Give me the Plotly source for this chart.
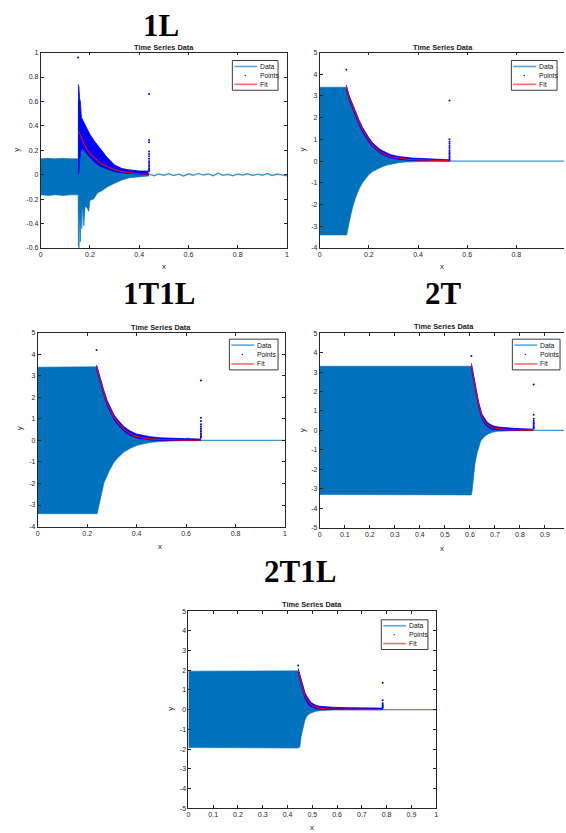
import plotly.graph_objects as go

W, H = 566, 833

# ---------------- 1L ----------------
A_env_x = [0, 0.03, 0.06, 0.09, 0.12, 0.152, 0.153, 0.156, 0.158, 0.161, 0.164, 0.167, 0.170, 0.175,
           0.180, 0.188, 0.195, 0.20, 0.215, 0.23, 0.25, 0.27, 0.30, 0.33, 0.36, 0.40, 0.44]
A_env_hi = [0.13, 0.135, 0.13, 0.135, 0.13, 0.13, 0.60, 0.55, 0.50, 0.45, 0.42, 0.40, 0.37, 0.33,
            0.30, 0.26, 0.23, 0.21, 0.17, 0.14, 0.11, 0.08, 0.05, 0.035, 0.025, 0.018, 0.012]
A_env_lo = [-0.165, -0.17, -0.165, -0.17, -0.165, -0.165, -0.58, -0.60, -0.28, -0.55, -0.26, -0.44, -0.25, -0.42,
            -0.26, -0.27, -0.30, -0.21, -0.20, -0.15, -0.13, -0.10, -0.07, -0.043, -0.025, -0.016, -0.01]
A_tail_x = [0.44, 0.46, 0.48, 0.50, 0.52, 0.54, 0.56, 0.58, 0.60, 0.62, 0.64, 0.66, 0.68, 0.70, 0.72,
            0.74, 0.76, 0.78, 0.80, 0.82, 0.84, 0.86, 0.88, 0.90, 0.92, 0.94, 0.96, 0.98, 1.0]
A_tail_y = [0.005, -0.008, 0.006, -0.004, 0.008, -0.006, 0.004, -0.01, 0.007, -0.005, 0.01, -0.003, 0.006,
            -0.008, 0.012, -0.004, 0.003, -0.009, 0.006, -0.002, 0.008, -0.007, 0.004, -0.005, 0.009,
            -0.006, 0.005, -0.004, -0.01]
A_pts_x = [0.152, 0.155, 0.158, 0.161, 0.165, 0.17, 0.18, 0.19, 0.20, 0.22, 0.24, 0.27, 0.30, 0.33, 0.36, 0.40, 0.437]
A_pts_hi = [0.74, 0.72, 0.62, 0.60, 0.47, 0.45, 0.42, 0.37, 0.33, 0.27, 0.22, 0.14, 0.08, 0.05, 0.04, 0.03, 0.03]
A_pts_lo = [0.00, 0.02, 0.10, 0.18, 0.20, 0.21, 0.19, 0.16, 0.14, 0.10, 0.07, 0.045, 0.025, 0.013, 0.008, 0.004, 0.0]
A_fit_x = [0.155, 0.165, 0.175, 0.19, 0.20, 0.22, 0.235, 0.25, 0.27, 0.30, 0.32, 0.35, 0.376, 0.40, 0.44]
A_fit_y = [0.355, 0.30, 0.255, 0.20, 0.173, 0.135, 0.105, 0.085, 0.065, 0.04, 0.03, 0.018, 0.011, 0.008, 0.005]
A_out_x = [0.152, 0.44, 0.44, 0.44, 0.44, 0.44, 0.44, 0.44, 0.44, 0.44, 0.44, 0.44, 0.44, 0.44, 0.44]
A_out_y = [0.96, 0.66, 0.285, 0.265, 0.19, 0.17, 0.15, 0.13, 0.11, 0.095, 0.08, 0.065, 0.05, 0.04, 0.03]
A_xticks = [0, 0.2, 0.4, 0.6, 0.8, 1]
A_xlabels = ["0", "0.2", "0.4", "0.6", "0.8", "1"]
A_yticks = [-0.6, -0.4, -0.2, 0, 0.2, 0.4, 0.6, 0.8, 1]
A_ylabels = ["-0.6", "-0.4", "-0.2", "0", "0.2", "0.4", "0.6", "0.8", "1"]

# ---------------- (unlabelled, top right) ----------------
B_env_x = [0, 0.108, 0.110, 0.115, 0.121, 0.128, 0.135, 0.148, 0.162, 0.175, 0.189, 0.20, 0.215,
           0.235, 0.256, 0.275, 0.296, 0.32, 0.35, 0.40, 0.45, 0.528]
B_env_hi = [3.4, 3.4, 3.35, 3.1, 2.85, 2.6, 2.4, 2.0, 1.65, 1.35, 1.1, 0.92, 0.72,
            0.52, 0.38, 0.28, 0.2, 0.13, 0.08, 0.04, 0.02, 0.01]
B_env_lo = [-3.4, -3.42, -3.4, -3.1, -2.69, -2.4, -2.08, -1.62, -1.24, -0.98, -0.78, -0.62, -0.48,
            -0.35, -0.25, -0.18, -0.12, -0.08, -0.04, -0.02, -0.01, -0.005]
B_tail_x = [0.528, 1.0]
B_tail_y = [0.0, 0.0]
B_fit_x = [0.108, 0.12, 0.135, 0.15, 0.162, 0.175, 0.189, 0.20, 0.215, 0.23, 0.242, 0.255, 0.269,
           0.29, 0.323, 0.35, 0.377, 0.42, 0.458, 0.528]
B_fit_y = [3.48, 2.9, 2.49, 2.05, 1.73, 1.43, 1.16, 0.97, 0.74, 0.57, 0.46, 0.37, 0.28,
           0.19, 0.13, 0.09, 0.07, 0.05, 0.04, 0.02]
B_pts_hi = [3.5, 3.0, 2.6, 2.16, 1.84, 1.54, 1.27, 1.08, 0.85, 0.68, 0.57, 0.48, 0.39,
            0.29, 0.21, 0.17, 0.14, 0.12, 0.1, 0.06]
B_pts_lo = [3.3, 2.8, 2.38, 1.94, 1.62, 1.32, 1.06, 0.88, 0.66, 0.5, 0.4, 0.31, 0.23,
            0.14, 0.08, 0.05, 0.03, 0.02, 0.01, 0.0]
B_out_x = [0.108, 0.528, 0.528, 0.528, 0.528, 0.528, 0.528, 0.528, 0.528, 0.528, 0.528, 0.528,
           0.528, 0.528, 0.528]
B_out_y = [4.21, 2.79, 1.01, 0.89, 0.8, 0.7, 0.6, 0.5, 0.42, 0.35, 0.28, 0.2, 0.14, 0.08, 0.04]
B_xticks = [0, 0.2, 0.4, 0.6, 0.8]
B_xlabels = ["0", "0.2", "0.4", "0.6", "0.8"]
B_yticks = [-4, -3, -2, -1, 0, 1, 2, 3, 4, 5]
B_ylabels = ["-4", "-3", "-2", "-1", "0", "1", "2", "3", "4", "5"]

# ---------------- 1T1L ----------------
C_env_x = [0, 0.238, 0.241, 0.246, 0.254, 0.268, 0.288, 0.308, 0.321, 0.335, 0.348, 0.375,
           0.40, 0.428, 0.455, 0.495, 0.535, 0.60, 0.66]
C_env_hi = [3.4, 3.42, 3.3, 3.0, 2.65, 2.12, 1.5, 1.05, 0.83, 0.65, 0.5, 0.29,
            0.17, 0.1, 0.06, 0.03, 0.02, 0.01, 0.005]
C_env_lo = [-3.4, -3.42, -3.4, -3.1, -2.66, -1.97, -1.43, -1.02, -0.84, -0.67, -0.54, -0.36,
            -0.24, -0.16, -0.1, -0.05, -0.025, -0.01, -0.005]
C_tail_x = [0.66, 1.0]
C_tail_y = [0.0, 0.0]
C_fit_x = [0.238, 0.254, 0.268, 0.281, 0.295, 0.308, 0.321, 0.335, 0.348, 0.362, 0.375, 0.40,
           0.428, 0.455, 0.495, 0.535, 0.60, 0.66]
C_fit_y = [3.42, 2.7, 2.17, 1.72, 1.37, 1.08, 0.87, 0.68, 0.53, 0.41, 0.31, 0.18,
           0.11, 0.07, 0.04, 0.02, 0.01, 0.01]
C_pts_hi = [3.5, 2.82, 2.3, 1.85, 1.5, 1.2, 0.99, 0.8, 0.65, 0.53, 0.43, 0.3,
            0.22, 0.17, 0.12, 0.1, 0.08, 0.06]
C_pts_lo = [3.3, 2.6, 2.07, 1.62, 1.27, 0.98, 0.77, 0.58, 0.44, 0.32, 0.23, 0.11,
            0.05, 0.02, 0.0, -0.01, -0.01, -0.01]
C_out_x = [0.238, 0.58, 0.61, 0.66, 0.66, 0.66, 0.66, 0.66, 0.66, 0.66, 0.66, 0.66, 0.66, 0.66, 0.66]
C_out_y = [4.2, 0.07, 0.08, 2.78, 1.05, 0.9, 0.75, 0.65, 0.55, 0.47, 0.4, 0.32, 0.25, 0.18, 0.12]
C_xticks = [0, 0.2, 0.4, 0.6, 0.8, 1]
C_xlabels = ["0", "0.2", "0.4", "0.6", "0.8", "1"]
C_yticks = [-4, -3, -2, -1, 0, 1, 2, 3, 4, 5]
C_ylabels = ["-4", "-3", "-2", "-1", "0", "1", "2", "3", "4", "5"]

# ---------------- 2T ----------------
D_env_x = [0, 0.606, 0.609, 0.613, 0.62, 0.628, 0.635, 0.643, 0.652, 0.663, 0.675, 0.69,
           0.71, 0.74, 0.78, 0.853]
D_env_hi = [3.3, 3.3, 3.05, 2.8, 2.2, 1.75, 1.3, 0.95, 0.62, 0.4, 0.25, 0.14,
            0.07, 0.03, 0.015, 0.005]
D_env_lo = [-3.3, -3.32, -3.1, -2.6, -1.75, -1.2, -0.85, -0.56, -0.4, -0.26, -0.17, -0.1,
            -0.05, -0.02, -0.01, -0.005]
D_tail_x = [0.853, 1.0]
D_tail_y = [0.0, 0.0]
D_fit_x = [0.606, 0.615, 0.624, 0.635, 0.648, 0.658, 0.668, 0.68, 0.694, 0.715, 0.741, 0.78, 0.82, 0.853]
D_fit_y = [3.35, 2.67, 1.99, 1.31, 0.71, 0.47, 0.32, 0.2, 0.12, 0.07, 0.04, 0.02, 0.01, 0.0]
D_pts_hi = [3.45, 2.8, 2.12, 1.44, 0.84, 0.6, 0.44, 0.32, 0.23, 0.17, 0.13, 0.1, 0.08, 0.06]
D_pts_lo = [3.2, 2.55, 1.87, 1.19, 0.6, 0.37, 0.22, 0.11, 0.04, 0.01, 0.0, -0.01, -0.01, -0.01]
D_out_x = [0.606, 0.79, 0.855, 0.855, 0.855, 0.855, 0.855, 0.855, 0.855, 0.855, 0.855, 0.855]
D_out_y = [3.83, 0.08, 2.36, 0.8, 0.6, 0.5, 0.42, 0.35, 0.28, 0.21, 0.15, 0.1]
D_xticks = [0, 0.1, 0.2, 0.3, 0.4, 0.5, 0.6, 0.7, 0.8, 0.9]
D_xlabels = ["0", "0.1", "0.2", "0.3", "0.4", "0.5", "0.6", "0.7", "0.8", "0.9"]
D_yticks = [-5, -4, -3, -2, -1, 0, 1, 2, 3, 4, 5]
D_ylabels = ["-5", "-4", "-3", "-2", "-1", "0", "1", "2", "3", "4", "5"]

# ---------------- 2T1L ----------------
E_env_x = [0, 0.443, 0.446, 0.45, 0.455, 0.464, 0.47, 0.477, 0.484, 0.497, 0.504, 0.515,
           0.53, 0.555, 0.584, 0.65, 0.784]
E_env_hi = [1.95, 1.97, 1.9, 1.7, 1.5, 1.05, 0.75, 0.55, 0.4, 0.22, 0.17, 0.11,
            0.07, 0.04, 0.02, 0.01, 0.005]
E_env_lo = [-1.92, -1.95, -1.9, -1.9, -1.36, -0.77, -0.55, -0.36, -0.25, -0.16, -0.12, -0.08,
            -0.05, -0.03, -0.02, -0.01, -0.005]
E_tail_x = [0.784, 1.0]
E_tail_y = [0.0, 0.0]
E_fit_x = [0.443, 0.45, 0.457, 0.464, 0.47, 0.477, 0.484, 0.494, 0.504, 0.515, 0.53, 0.555,
           0.584, 0.65, 0.72, 0.784]
E_fit_y = [1.99, 1.62, 1.32, 1.0, 0.73, 0.55, 0.4, 0.26, 0.18, 0.12, 0.08, 0.05,
           0.03, 0.02, 0.015, 0.01]
E_pts_hi = [2.1, 1.78, 1.48, 1.15, 0.88, 0.7, 0.54, 0.38, 0.3, 0.22, 0.17, 0.14,
            0.12, 0.1, 0.09, 0.08]
E_pts_lo = [1.88, 1.5, 1.2, 0.88, 0.6, 0.42, 0.28, 0.15, 0.08, 0.04, 0.02, 0.01,
            0.0, 0.0, 0.0, -0.005]
E_out_x = [0.443, 0.784, 0.784, 0.784, 0.784, 0.784, 0.784, 0.784]
E_out_y = [2.24, 1.37, 0.48, 0.32, 0.25, 0.2, 0.15, 0.1]
E_xticks = [0, 0.1, 0.2, 0.3, 0.4, 0.5, 0.6, 0.7, 0.8, 0.9, 1]
E_xlabels = ["0", "0.1", "0.2", "0.3", "0.4", "0.5", "0.6", "0.7", "0.8", "0.9", "1"]
E_yticks = [-5, -4, -3, -2, -1, 0, 1, 2, 3, 4, 5]
E_ylabels = ["-5", "-4", "-3", "-2", "-1", "0", "1", "2", "3", "4", "5"]

CASE_NAMES = ["1L", "", "1T1L", "2T", "2T1L"]
PLOT_TITLE = "Time Series Data"
SERIES_NAMES = ["Data", "Points", "Fit"]

DATA_BLUE = "#0072BD"
TAIL_BLUE = "#3d95d3"
PTS_BLUE = "#0000FF"
FIT_RED = "#FF0000"
AX_COL = "#262626"


def fx(p):
    return p / W


def fy(p):
    return 1 - p / H


panels = [
    dict(env=(A_env_x, A_env_hi, A_env_lo), tail=(A_tail_x, A_tail_y),
         pts=(A_pts_x, A_pts_hi, A_pts_lo), fit=(A_fit_x, A_fit_y), out=(A_out_x, A_out_y),
         xt=(A_xticks, A_xlabels), yt=(A_yticks, A_ylabels),
         box=(39, 287, 49, 246), xr=[0, 1], yr=[-0.6, 1], right=True,
         title_xy=(160, 21.5), sub_xy=(163, 44), xl=(163, 265), yl=(15, 147), leg=(232, 57, 46, 30)),
    dict(env=(B_env_x, B_env_hi, B_env_lo), tail=(B_tail_x, B_tail_y),
         pts=(B_fit_x, B_pts_hi, B_pts_lo), fit=(B_fit_x, B_fit_y), out=(B_out_x, B_out_y),
         xt=(B_xticks, B_xlabels), yt=(B_yticks, B_ylabels),
         box=(320, 566, 49, 246), xr=[0, 0.994], yr=[-4, 5], right=False,
         title_xy=None, sub_xy=(444, 44), xl=(443, 265), yl=(303, 147), leg=(513, 57, 46, 30)),
    dict(env=(C_env_x, C_env_hi, C_env_lo), tail=(C_tail_x, C_tail_y),
         pts=(C_fit_x, C_pts_hi, C_pts_lo), fit=(C_fit_x, C_fit_y), out=(C_out_x, C_out_y),
         xt=(C_xticks, C_xlabels), yt=(C_yticks, C_ylabels),
         box=(36, 285, 331.5, 527), xr=[0, 1], yr=[-4, 5], right=True,
         title_xy=(158, 291), sub_xy=(160, 326), xl=(159, 547), yl=(18, 428), leg=(229, 338, 49, 31)),
    dict(env=(D_env_x, D_env_hi, D_env_lo), tail=(D_tail_x, D_tail_y),
         pts=(D_fit_x, D_pts_hi, D_pts_lo), fit=(D_fit_x, D_fit_y), out=(D_out_x, D_out_y),
         xt=(D_xticks, D_xlabels), yt=(D_yticks, D_ylabels),
         box=(320, 566, 332, 528), xr=[0, 0.976], yr=[-5, 5], right=False,
         title_xy=(445, 291), sub_xy=(445, 325), xl=(443, 549), yl=(303, 430), leg=(514, 338, 48, 31)),
    dict(env=(E_env_x, E_env_hi, E_env_lo), tail=(E_tail_x, E_tail_y),
         pts=(E_fit_x, E_pts_hi, E_pts_lo), fit=(E_fit_x, E_fit_y), out=(E_out_x, E_out_y),
         xt=(E_xticks, E_xlabels), yt=(E_yticks, E_ylabels),
         box=(187.7, 437.3, 612.3, 811), xr=[0, 1], yr=[-5, 5], right=True,
         title_xy=(300, 572), sub_xy=(312, 606), xl=(312, 830), yl=(169, 711), leg=(382, 621, 47, 30)),
]

fig = go.Figure()
layout = dict(
    width=W, height=H, margin=dict(l=0, r=0, t=0, b=0),
    paper_bgcolor="white", plot_bgcolor="white", showlegend=False,
    annotations=[], shapes=[],
)

tick_font = dict(family="Liberation Sans, Arial, sans-serif", size=7, color=AX_COL)

for i, p in enumerate(panels):
    n = "" if i == 0 else str(i + 1)
    xa, ya = "x" + n, "y" + n
    x0, x1, yt_, yb = p["box"]

    # Data envelope (filled band) and quiet tail
    ex, ehi, elo = p["env"]
    fig.add_trace(go.Scatter(x=ex, y=elo, mode="lines", line=dict(color=DATA_BLUE, width=0.6),
                             xaxis=xa, yaxis=ya, hoverinfo="skip", name=SERIES_NAMES[0]))
    fig.add_trace(go.Scatter(x=ex, y=ehi, mode="lines", line=dict(color=DATA_BLUE, width=0.6),
                             fill="tonexty", fillcolor=DATA_BLUE, xaxis=xa, yaxis=ya,
                             hoverinfo="skip", name=SERIES_NAMES[0]))
    tx, ty = p["tail"]
    fig.add_trace(go.Scatter(x=tx, y=ty, mode="lines", line=dict(color=TAIL_BLUE, width=1.4),
                             xaxis=xa, yaxis=ya, name=SERIES_NAMES[0]))

    # Detected points: dense band plus isolated points
    px_, phi, plo = p["pts"]
    fig.add_trace(go.Scatter(x=px_, y=plo, mode="lines", line=dict(color=PTS_BLUE, width=0.8),
                             xaxis=xa, yaxis=ya, hoverinfo="skip", name=SERIES_NAMES[1]))
    fig.add_trace(go.Scatter(x=px_, y=phi, mode="lines", line=dict(color=PTS_BLUE, width=0.8),
                             fill="tonexty", fillcolor=PTS_BLUE, xaxis=xa, yaxis=ya,
                             hoverinfo="skip", name=SERIES_NAMES[1]))
    ox, oy = p["out"]
    fig.add_trace(go.Scatter(x=ox, y=oy, mode="markers", marker=dict(color=PTS_BLUE, size=2),
                             xaxis=xa, yaxis=ya, name=SERIES_NAMES[1]))

    # Exponential fit
    fxs, fys = p["fit"]
    fig.add_trace(go.Scatter(x=fxs, y=fys, mode="lines", line=dict(color=FIT_RED, width=1.1),
                             xaxis=xa, yaxis=ya, name=SERIES_NAMES[2]))

    axkey = "xaxis" + n
    aykey = "yaxis" + n
    layout[axkey] = dict(
        domain=[fx(x0), fx(x1)], range=p["xr"], anchor=ya,
        tickmode="array", tickvals=p["xt"][0], ticktext=p["xt"][1],
        ticks="inside", ticklen=3, tickwidth=0.8, tickcolor=AX_COL,
        showline=True, linecolor=AX_COL, linewidth=0.8, mirror="ticks",
        showgrid=False, zeroline=False, tickfont=tick_font, fixedrange=True,
    )
    layout[aykey] = dict(
        domain=[fy(yb), fy(yt_)], range=p["yr"], anchor=xa,
        tickmode="array", tickvals=p["yt"][0], ticktext=p["yt"][1],
        ticks="inside", ticklen=3, tickwidth=0.8, tickcolor=AX_COL,
        showline=True, linecolor=AX_COL, linewidth=0.8, mirror="ticks" if p["right"] else False,
        showgrid=False, zeroline=False, tickfont=tick_font, fixedrange=True,
    )

    ann = layout["annotations"]
    if p["title_xy"] is not None:
        ann.append(dict(text="<b>%s</b>" % CASE_NAMES[i], x=fx(p["title_xy"][0]), y=fy(p["title_xy"][1]),
                        xref="paper", yref="paper", showarrow=False, xanchor="center", yanchor="middle",
                        height=28, valign="middle",
                        font=dict(family="Liberation Serif, Times New Roman, serif", size=31, color="black")))
    ann.append(dict(text="<b>%s</b>" % PLOT_TITLE, x=fx(p["sub_xy"][0]), y=fy(p["sub_xy"][1]),
                    xref="paper", yref="paper", showarrow=False, xanchor="center", yanchor="middle",
                    font=dict(family="Liberation Sans, Arial, sans-serif", size=7.4, color="#222")))
    ann.append(dict(text="x", x=fx(p["xl"][0]), y=fy(p["xl"][1]), xref="paper", yref="paper",
                    showarrow=False, xanchor="center", yanchor="middle",
                    font=dict(family="Liberation Sans, Arial, sans-serif", size=8, color=AX_COL)))
    ann.append(dict(text="y", x=fx(p["yl"][0]), y=fy(p["yl"][1]), xref="paper", yref="paper",
                    showarrow=False, xanchor="center", yanchor="middle", textangle=-90,
                    font=dict(family="Liberation Sans, Arial, sans-serif", size=8, color=AX_COL)))

    # Legend box
    lx, ly, lw, lh = p["leg"]
    shp = layout["shapes"]
    shp.append(dict(type="rect", xref="paper", yref="paper", x0=fx(lx), x1=fx(lx + lw),
                    y0=fy(ly + lh), y1=fy(ly), line=dict(color=AX_COL, width=0.9), fillcolor="white",
                    layer="above"))
    rows = [ly + 6, ly + lh / 2, ly + lh - 6]
    shp.append(dict(type="line", xref="paper", yref="paper", x0=fx(lx + 2), x1=fx(lx + 25),
                    y0=fy(rows[0]), y1=fy(rows[0]), line=dict(color="#5aa6dc", width=1.6), layer="above"))
    shp.append(dict(type="circle", xref="paper", yref="paper", x0=fx(lx + 12.3), x1=fx(lx + 13.7),
                    y0=fy(rows[1] + 0.7), y1=fy(rows[1] - 0.7), line=dict(width=0),
                    fillcolor=PTS_BLUE, layer="above"))
    shp.append(dict(type="line", xref="paper", yref="paper", x0=fx(lx + 2), x1=fx(lx + 25),
                    y0=fy(rows[2]), y1=fy(rows[2]), line=dict(color="#ff6a6a", width=1.6), layer="above"))
    for r, nm in zip(rows, SERIES_NAMES):
        ann.append(dict(text=nm, x=fx(lx + 25.5), y=fy(r), xref="paper", yref="paper",
                        showarrow=False, xanchor="left", yanchor="middle",
                        font=dict(family="Liberation Sans, Arial, sans-serif", size=6.8, color="#111")))

fig.update_layout(**layout)
fig.write_html("out.html")
